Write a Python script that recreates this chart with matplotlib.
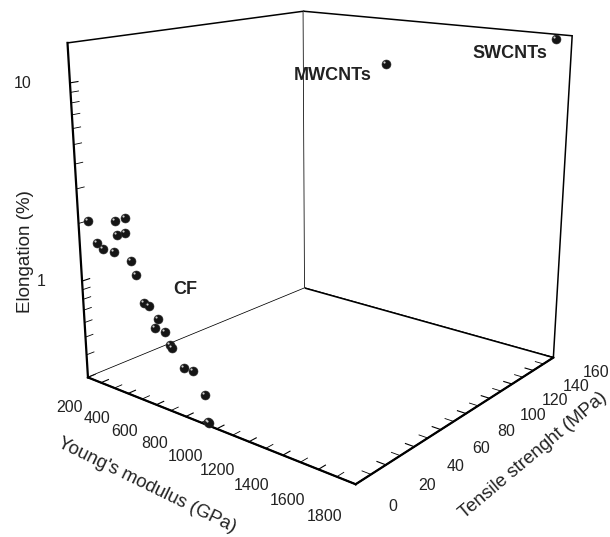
import matplotlib
matplotlib.use("Agg")
import matplotlib.pyplot as plt
from matplotlib.path import Path
from matplotlib.ticker import NullFormatter
import numpy as np

plt.rcParams['font.family'] = ['Liberation Sans', 'DejaVu Sans']

# Young's modulus (GPa), tensile strength (MPa), elongation (%)
cf_modulus = [120, 320, 395, 330, 385, 175, 222, 297, 420, 450, 496, 531, 591, 566,
              636, 666, 675, 756, 811, 886, 921, 927]
cf_tensile = [4, 4, 4, 4, 4, 4, 4, 4, 4, 4, 4, 4, 4, 4, 4, 4, 4, 4, 4, 4, 2, 2]
cf_elong = [2.03, 2.21, 2.36, 1.88, 1.98, 1.60, 1.52, 1.53, 1.45, 1.25, 0.925, 0.914,
            0.812, 0.713, 0.709, 0.620, 0.601, 0.503, 0.503, 0.395, 0.30, 0.30]
mw_modulus = [1000]
mw_tensile = [120]
mw_elong = [10.5]
sw_modulus = [1740]
sw_tensile = [155]
sw_elong = [15.0]

xticks = [200, 400, 600, 800, 1000, 1200, 1400, 1600, 1800]
xminor = [100, 300, 500, 700, 900, 1100, 1300, 1500, 1700]
yticks = [0, 20, 40, 60, 80, 100, 120, 140, 160]
yminor = [10, 30, 50, 70, 90, 110, 130, 150]
zticks = [1, 10]
zminor = [0.4, 0.5, 0.6, 0.7, 0.8, 0.9, 2, 3, 4, 5, 6, 7, 8, 9]

xlo, xhi = 100, 1800
ylo, yhi = 0, 160
zlo, zhi = np.log10(0.30), np.log10(15.5)

fig = plt.figure(figsize=(6.1, 5.37), dpi=100)
ax = fig.add_axes([0.0215, 0.0956, 1, 1], projection='3d')
ax.set_proj_type('persp', focal_length=0.4)
ax.view_init(elev=16, azim=-51)
ax.set_box_aspect((1, 1, 0.99), zoom=1.074)
ax.computed_zorder = False

allx = cf_modulus + mw_modulus + sw_modulus
ally = cf_tensile + mw_tensile + sw_tensile
allz = np.log10(cf_elong + mw_elong + sw_elong)

# sphere look: dark ball plus a small light spot up-left
spot = Path.circle((-0.22, 0.22), 0.12)
ax.scatter(allx, ally, allz, s=42, c='#151515', depthshade=False,
           edgecolors='#2a2a2a', linewidths=0.4, zorder=3)
ax.scatter(allx, ally, allz, s=42 * 0.46, marker=spot, c='#d0d0d0',
           depthshade=False, linewidths=0, zorder=4)

ax.set_xlim(xlo, xhi)
ax.set_ylim(ylo, yhi)
ax.set_zlim(zlo, zhi)
ax.set_xticks(xticks)
ax.set_xticks(xminor, minor=True)
ax.set_yticks(yticks)
ax.set_yticks(yminor, minor=True)
ax.set_zticks(np.log10(zticks))
ax.set_zticks(np.log10(zminor), minor=True)
ax.zaxis.set_ticks_position('lower')
for axis in (ax.xaxis, ax.yaxis, ax.zaxis):
    axis.set_major_formatter(NullFormatter())
    axis.pane.set_facecolor('white')
    axis.pane.set_edgecolor('black')
    axis.pane.set_alpha(1.0)
    axis.pane.set_linewidth(1.1)
    axis.line.set_color('black')
    axis.line.set_linewidth(1.6)
    axis._axinfo['tick']['inward_factor'] = 0.0
    axis._axinfo['tick']['outward_factor'] = 0.35
ax.grid(False)

# tick labels, set just outside the box edges
tk = dict(fontsize=11.5, color='#222222', va='center')
for v in xticks:
    ax.text(v, ylo - 19, zlo - 0.06, str(v), ha='center', **tk)
for v in yticks:
    ax.text(xhi + 170, v, zlo - 0.04, str(v), ha='left', **tk)
for v in zticks:
    ax.text(xlo - 137, ylo - 11, np.log10(v), str(v), ha='right', **tk)

# axis titles placed by hand along the box edges
fig.text(147 / 610, 1 - 485 / 537, "Young's modulus (GPa)", fontsize=13.5,
         color='#222222', rotation=-26, ha='center', va='center',
         rotation_mode='anchor')
fig.text(533 / 610, 1 - 455 / 537, "Tensile strenght (MPa)", fontsize=13.5,
         color='#222222', rotation=40, ha='center', va='center',
         rotation_mode='anchor')
fig.text(26 / 610, 1 - 252 / 537, "Elongation (%)", fontsize=13.5,
         color='#222222', rotation=90, ha='center', va='center')

fig.text(510 / 610, 1 - 53 / 537, 'SWCNTs', fontsize=13, fontweight='bold',
         ha='center', va='center', color='#222222')
fig.text(333 / 610, 1 - 76 / 537, 'MWCNTs', fontsize=13, fontweight='bold',
         ha='center', va='center', color='#222222')
fig.text(185 / 610, 1 - 290 / 537, 'CF', fontsize=13, fontweight='bold',
         ha='center', va='center', color='#222222')

fig.savefig('out.png', dpi=100)
